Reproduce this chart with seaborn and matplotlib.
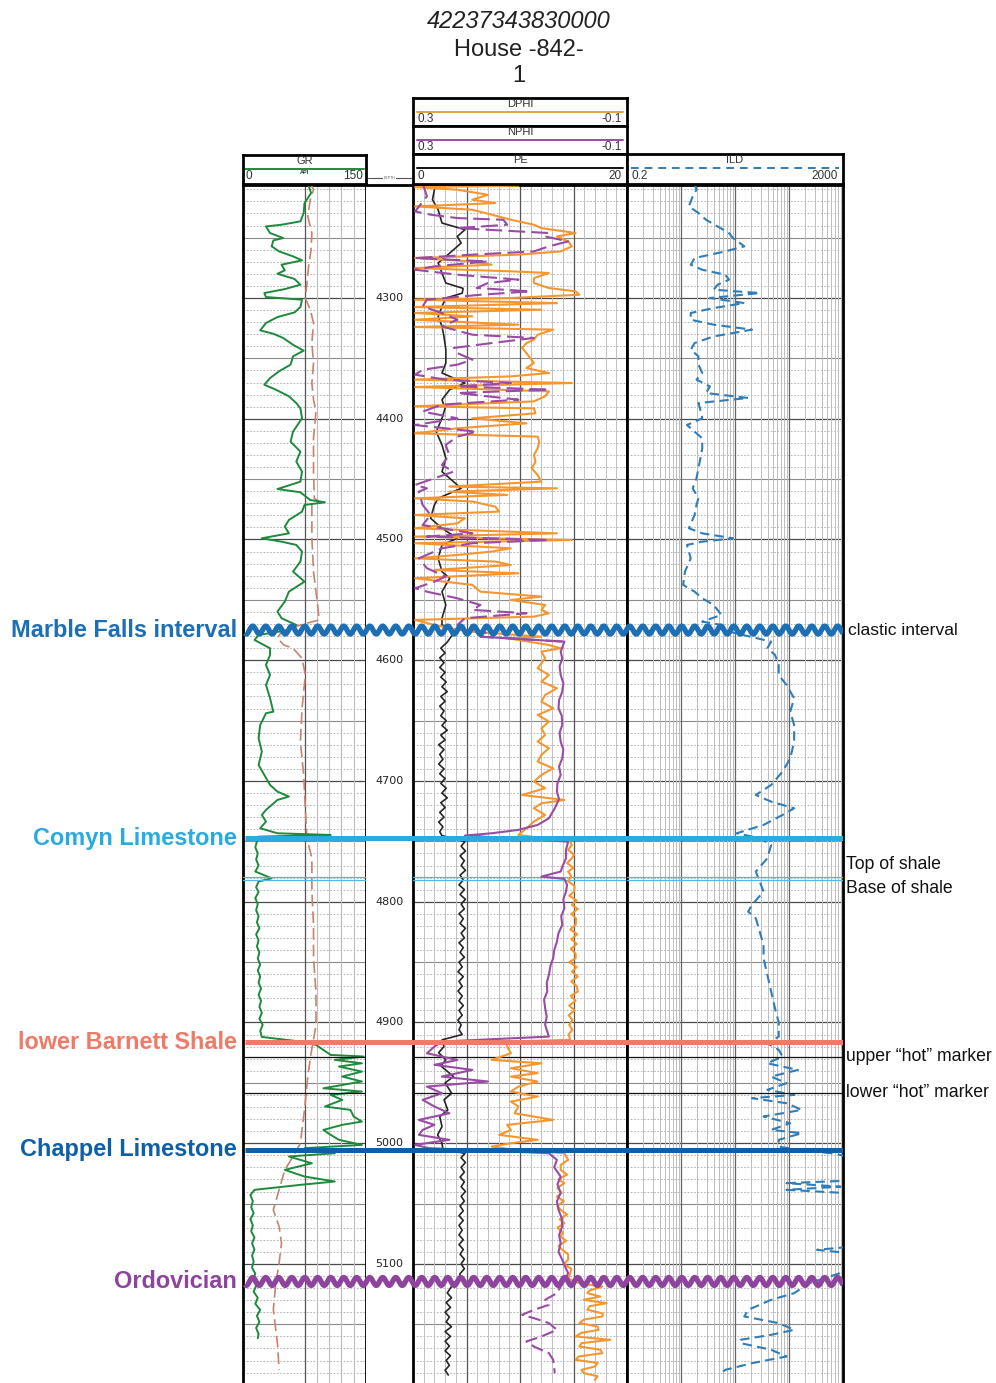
import numpy as np
import pandas as pd
import matplotlib
matplotlib.use("Agg")
import matplotlib.pyplot as plt
from matplotlib.lines import Line2D
import seaborn as sns

# ---------------- DATA (depth ft, value) ----------------
GR_LOG = [(4204.8,79),(4213.1,83),(4221.4,75),(4229.6,74),(4236.5,70),(4239.3,47),(4240.7,28),(4246.2,33),(4250.3,49),(4252.3,37),(4257.2,35),(4261.4,44),(4265.5,61),(4268.8,72),(4272.4,47),(4277.1,51),(4279.9,42),(4284.3,63),(4289.0,70),(4292.6,51),(4295.9,26),(4299.2,28),(4301.4,72),(4307.5,70),(4311.9,63),(4315.8,42),(4320.7,28),(4326.8,21),(4329.6,37),(4333.1,49),(4338.7,61),(4343.6,74),(4348.3,61),(4355.2,58),(4360.7,44),(4366.3,33),(4371.8,26),(4375.9,40),(4381.4,56),(4387.0,65),(4391.4,70),(4399.6,72),(4410.7,61),(4419.0,58),(4427.2,70),(4435.5,65),(4443.8,72),(4452.1,70),(4458.2,42),(4460.9,70),(4467.3,82),(4469.2,100),(4471.4,75),(4476.9,72),(4483.8,56),(4489.3,51),(4494.9,56),(4499.0,23),(4501.8,47),(4504.5,65),(4510.0,72),(4518.3,70),(4526.6,61),(4534.9,75),(4543.2,56),(4551.4,51),(4559.7,42),(4565.2,47),(4570.8,65),(4574.9,56),(4579.1,19),(4583.2,14),(4590.1,33),(4595.6,33),(4603.9,28),(4612.2,33),(4620.5,28),(4631.5,33),(4642.6,37),(4643.9,28),(4653.6,21),(4664.6,19),(4675.7,23),(4686.7,19),(4695.0,26),(4703.3,33),(4708.8,42),(4712.9,56),(4715.7,42),(4719.8,35),(4724.0,28),(4728.1,23),(4733.6,28),(4739.2,21),(4743.3,42),(4744.7,107),(4746.1,19),(4750,17),(4755,15),(4760,18),(4765,16),(4770,19),(4775,15),(4780.6,35),(4783.3,19),(4788,16),(4792,19),(4797,15),(4802,18),(4807,16),(4812,19),(4817,17),(4822,20),(4827,16),(4832,19),(4837,17),(4842,20),(4847,18),(4852,21),(4857,18),(4862,21),(4867,19),(4872,22),(4877,19),(4882,22),(4887,20),(4892,23),(4897,20),(4902,24),(4907,21),(4912,23),(4915.8,70),(4918.6,89),(4926.9,107),(4928.2,147),(4931.0,112),(4933.8,145),(4936.5,117),(4940.7,145),(4944.8,121),(4948.9,145),(4954.5,98),(4957.2,145),(4960.0,107),(4964.1,121),(4969.6,100),(4972.4,131),(4977.9,135),(4982.1,145),(4984.8,121),(4989.0,98),(4993.1,107),(4997.2,117),(5001.4,145),(5004.1,75),(5008.3,112),(5011.0,56),(5016.6,84),(5022.1,51),(5027.6,75),(5031.7,112),(5034.5,70),(5038.6,14),(5043,9),(5048,12),(5053,10),(5058,13),(5063,9),(5068,12),(5073,10),(5078,14),(5083,11),(5088,14),(5093,11),(5098,13),(5103,11),(5108,15),(5113,12),(5118,16),(5123,13),(5128,18),(5133,15),(5138,21),(5143,17),(5148,20),(5153,16),(5158,19),(5161.5,18)]

# unlabeled brown dashed curve drawn in the GR track (GR-track units)
AUX_LOG = [(4204.8,82),(4210.3,86),(4218.6,82),(4232.4,79),(4246.2,84),(4260.0,83),(4273.8,80),(4287.6,78),(4300.0,76),(4309.7,82),(4320.7,86),(4337.3,84),(4353.8,86),(4370.4,84),(4384.2,86),(4394.1,89),(4416.2,86),(4443.8,86),(4466.0,87),(4468.6,93),(4471.4,84),(4499.0,84),(4526.6,86),(4554.2,91),(4566.6,93),(4570.8,70),(4576.3,47),(4581.8,42),(4587.4,50),(4590.1,61),(4598.4,72),(4612.2,76),(4639.8,72),(4667.4,70),(4695.0,74),(4722.6,76),(4747.4,78),(4764.0,84),(4791.6,84),(4819.2,86),(4846.8,86),(4874.4,89),(4902.0,89),(4914.4,86),(4925.5,83),(4944.8,79),(4972.4,75),(5000.0,70),(5011.0,61),(5022.1,51),(5038.6,44),(5055.2,37),(5069.0,44),(5082.8,47),(5099.4,44),(5115.9,40),(5138.0,37),(5165.6,42),(5187.7,44)]

PE_LOG = [(4204.8,2.35),(4210.3,2.00),(4218.6,1.82),(4226.9,2.35),(4237.9,2.71),(4243.4,4.86),(4249.0,4.14),(4254.5,4.50),(4262.8,3.43),(4271.0,2.35),(4279.3,2.71),(4287.6,3.07),(4292.0,4.68),(4296.0,4.60),(4300.0,3.07),(4306.9,2.71),(4315.2,2.35),(4323.5,2.71),(4331.8,2.89),(4342.8,3.07),(4353.8,3.07),(4362.1,2.71),(4370.4,4.86),(4375.9,3.43),(4384.2,2.71),(4391.4,3.00),(4399.6,2.71),(4410.7,2.17),(4421.7,2.71),(4432.8,3.07),(4443.8,2.71),(4457.6,4.50),(4465.9,2.35),(4471.4,2.00),(4482.4,1.64),(4490.7,2.71),(4499.0,4.14),(4504.5,2.71),(4515.6,2.35),(4526.6,2.71),(4532.1,3.43),(4543.2,2.71),(4554.2,3.07),(4565.2,2.71),(4570.8,2.71),(4576.3,4.14),(4580,3.6),(4585,3.2),(4590,2.6),(4594,3.0),(4598,2.5),(4602,2.9),(4606,2.5),(4610,3.0),(4614,2.6),(4618,3.1),(4622,2.7),(4626,3.2),(4630,2.6),(4634,3.0),(4638,2.5),(4642,2.9),(4646,2.6),(4650,3.1),(4654,2.7),(4658,3.2),(4662,2.6),(4666,3.0),(4670,2.4),(4674,2.9),(4678,2.5),(4682,2.8),(4686,2.4),(4690,2.9),(4694,2.5),(4698,3.0),(4702,2.6),(4706,3.1),(4710,2.7),(4714,3.2),(4718,2.6),(4722,3.0),(4726,2.5),(4730,2.9),(4734,2.4),(4738,2.8),(4742,2.5),(4745.2,2.7),(4750.2,4.86),(4754,4.5),(4758,4.9),(4762,4.4),(4766,4.8),(4770,4.5),(4774,4.9),(4778,4.4),(4782,4.7),(4786,4.3),(4790,4.8),(4794,4.4),(4798,4.9),(4802,4.5),(4806,4.8),(4810,4.3),(4814,4.7),(4818,4.4),(4822,4.9),(4826,4.5),(4830,4.8),(4834,4.3),(4838,4.7),(4842,4.4),(4846,4.8),(4850,4.3),(4854,4.6),(4858,4.2),(4862,4.7),(4866,4.3),(4870,4.6),(4874,4.2),(4878,4.6),(4882,4.3),(4886,4.7),(4890,4.3),(4894,4.6),(4898,4.2),(4902,4.5),(4906,4.3),(4910,4.6),(4914.4,2.71),(4920.0,2.89),(4925,2.4),(4931.0,3.07),(4936,2.6),(4944.8,3.79),(4950,3.0),(4958.6,3.61),(4964,2.9),(4972.4,3.25),(4978,2.5),(4986.2,2.71),(4993,2.3),(5000.0,2.71),(5005.5,2.8),(5008.3,4.86),(5012,4.5),(5016,4.9),(5020,4.5),(5024,4.8),(5028,4.4),(5032,4.8),(5036,4.5),(5040,4.9),(5044,4.5),(5048,4.8),(5052,4.4),(5056,4.7),(5060,4.3),(5064,4.7),(5068,4.3),(5072,4.6),(5076,4.3),(5080,4.7),(5084,4.3),(5088,4.7),(5092,4.4),(5096,4.8),(5100,4.5),(5104,4.8),(5108,4.4),(5112,4.3),(5116,3.8),(5120,3.5),(5124,3.2),(5128,3.6),(5132,3.1),(5136,3.5),(5140,3.0),(5144,3.4),(5148,3.1),(5152,3.6),(5156,3.0),(5160,3.5),(5164,3.0),(5168,3.4),(5172,3.0),(5176,3.5),(5180,3.1),(5184,3.4),(5188,3.0),(5192,3.3)]

DPHI_LOG = [(4204.8,0.103),(4207.0,0.103),(4208.1,0.296),(4210.3,0.217),(4214.5,0.160),(4218.6,0.189),(4221.4,0.146),(4224.1,0.296),(4226.9,0.189),(4231.0,0.153),(4235.2,0.117),(4239.3,0.074),(4242.1,0.060),(4246.2,-0.004),(4249.0,0.031),(4253.1,0.010),(4257.2,0.003),(4261.4,0.024),(4264.1,0.103),(4266.9,0.296),(4269.7,0.189),(4272.4,0.153),(4275.2,0.296),(4277.9,0.117),(4279.3,0.046),(4283.5,0.074),(4287.6,0.074),(4291.7,0.046),(4294.5,-0.004),(4297.3,-0.011),(4300.0,0.117),(4301.4,0.296),(4304.2,0.031),(4307.5,0.296),(4309.7,0.060),(4312.4,0.296),(4315.2,0.189),(4318.0,0.296),(4322.1,0.103),(4324.0,0.296),(4326.2,0.038),(4330.4,0.067),(4334.5,0.074),(4337.3,0.088),(4341.4,0.096),(4345.6,0.088),(4349.7,0.081),(4353.8,0.074),(4358.0,0.088),(4362.1,0.046),(4364.9,0.117),(4367.6,0.296),(4370.4,0.003),(4373.7,0.296),(4377.3,0.046),(4381.4,0.053),(4385.6,0.074),(4389.7,0.296),(4391.4,0.074),(4395.5,0.071),(4399.6,0.189),(4403.8,0.088),(4407.9,0.217),(4412.1,0.296),(4414.8,0.067),(4419.0,0.064),(4424.5,0.067),(4430.0,0.074),(4435.5,0.071),(4441.0,0.078),(4446.6,0.067),(4452.1,0.060),(4456.2,0.232),(4457.6,0.031),(4460.4,0.232),(4463.1,0.124),(4465.9,0.296),(4468.6,0.189),(4472.8,0.146),(4476.9,0.139),(4479.7,0.296),(4482.4,0.203),(4486.6,0.217),(4490.7,0.296),(4494.9,0.031),(4497.6,0.296),(4500.4,0.003),(4503.1,0.296),(4507.3,0.117),(4510.0,0.153),(4512.8,0.217),(4515.6,0.296),(4518.3,0.146),(4521.1,0.117),(4525.2,0.260),(4528.0,0.103),(4532.1,0.296),(4537.6,0.189),(4543.2,0.174),(4547.3,0.060),(4550.1,0.117),(4554.2,0.053),(4558.3,0.060),(4561.1,0.046),(4563.9,0.074),(4566.6,0.296),(4570.8,0.260),(4576.0,0.200),(4580.5,0.060),(4581.8,0.124),(4583.2,0.103),(4587.4,0.046),(4590.1,0.024),(4592.9,0.060),(4598.4,0.053),(4606.7,0.067),(4612.2,0.046),(4617.7,0.060),(4623.2,0.031),(4628.8,0.053),(4634.3,0.060),(4639.8,0.038),(4645.3,0.067),(4650.8,0.046),(4656.4,0.060),(4661.9,0.053),(4667.4,0.067),(4672.9,0.046),(4678.4,0.060),(4684.0,0.067),(4689.5,0.038),(4695.0,0.060),(4700.5,0.074),(4706.0,0.053),(4711.6,0.096),(4715.7,0.017),(4718.5,0.060),(4722.6,0.074),(4728.1,0.053),(4733.6,0.074),(4739.2,0.088),(4744.7,0.103),(4750.2,0.006),(4753.0,0.003),(4757,0.010),(4761,-0.001),(4764.0,0.003),(4768,0.012),(4772,0.000),(4775.0,0.010),(4779,0.004),(4783,0.010),(4787,-0.002),(4791.6,-0.001),(4795,0.008),(4799,-0.006),(4802.6,0.003),(4806,-0.008),(4810,0.004),(4814,-0.005),(4819.2,-0.004),(4823,0.006),(4827,-0.007),(4831,0.004),(4835,-0.006),(4839,0.005),(4843,-0.004),(4846.8,-0.004),(4850,0.008),(4854,-0.006),(4858,0.003),(4862,-0.008),(4866,0.004),(4870,-0.006),(4874.4,-0.008),(4878,0.005),(4882,-0.004),(4886,0.008),(4890,-0.002),(4894,0.009),(4898,0.002),(4902,0.008),(4906,0.002),(4910,0.009),(4914.4,0.006),(4915.8,0.124),(4920.0,0.124),(4925.5,0.117),(4931.0,0.153),(4933.8,0.060),(4937.9,0.117),(4942.0,0.067),(4944.8,0.117),(4948.9,0.067),(4953.1,0.103),(4957.2,0.117),(4961.4,0.067),(4965.5,0.117),(4969.6,0.103),(4975.2,0.110),(4980.7,0.038),(4984.8,0.124),(4989.0,0.117),(4993.1,0.139),(4997.2,0.067),(5000.0,0.117),(5002.8,0.153),(5005.5,0.110),(5008.3,0.017),(5013.8,0.010),(5018,0.024),(5022.1,0.024),(5026,0.012),(5030,0.028),(5033.1,0.017),(5037,0.030),(5041,0.022),(5044.2,0.031),(5048,0.018),(5052,0.030),(5055.2,0.024),(5059,0.012),(5063,0.026),(5066.2,0.017),(5070,0.030),(5074,0.020),(5077.3,0.024),(5081,0.014),(5085,0.028),(5088.3,0.021),(5092,0.010),(5096.6,0.010),(5100,0.018),(5104,0.004),(5107.6,0.006),(5112,0.010),(5115.9,-0.010),(5118.7,-0.054),(5122,-0.030),(5124.2,-0.026),(5127,-0.050),(5129.7,-0.019),(5132.5,-0.062),(5135,-0.030),(5138.0,-0.026),(5141,-0.055),(5143.5,-0.054),(5146,-0.020),(5149.0,-0.011),(5151.8,-0.045),(5154.6,-0.047),(5157,-0.015),(5160.1,-0.004),(5162.8,-0.069),(5165.6,-0.015),(5168.4,-0.011),(5171,-0.050),(5173.9,-0.054),(5176.6,-0.010),(5179.4,-0.004),(5182,-0.045),(5184.9,-0.040),(5187.7,-0.015),(5190.4,-0.019),(5193,-0.045),(5196.0,-0.040)]

NPHI_LOG = [(4204.8,0.282),(4215.8,0.274),(4228.3,0.296),(4231.0,0.267),(4233.8,0.217),(4235.2,0.131),(4239.3,0.124),(4242.1,0.217),(4246.2,0.046),(4249.0,0.053),(4253.1,0.010),(4257.2,0.046),(4261.4,0.074),(4264.1,0.189),(4266.9,0.296),(4269.7,0.160),(4273.8,0.260),(4276.6,0.296),(4280.7,0.217),(4284.8,0.103),(4287.6,0.160),(4291.7,0.181),(4294.5,0.081),(4297.3,0.174),(4301.4,0.274),(4306.9,0.282),(4312.4,0.246),(4318.0,0.217),(4323.5,0.246),(4330.4,0.189),(4333.1,0.074),(4337.3,0.153),(4341.4,0.224),(4345.6,0.217),(4351.1,0.189),(4355.2,0.217),(4359.4,0.282),(4363.5,0.296),(4367.6,0.239),(4370.4,0.117),(4373.2,0.217),(4375.9,0.046),(4378.7,0.217),(4384.2,0.103),(4388.3,0.246),(4394.1,0.282),(4399.6,0.217),(4405.2,0.296),(4410.7,0.181),(4414.8,0.217),(4421.7,0.239),(4430.0,0.232),(4438.3,0.246),(4443.8,0.224),(4449.3,0.260),(4454.8,0.296),(4457.6,0.274),(4460.4,0.289),(4471.4,0.282),(4479.7,0.267),(4488.0,0.282),(4494.9,0.189),(4497.6,0.274),(4500.4,0.046),(4503.1,0.189),(4507.3,0.246),(4515.6,0.289),(4523.8,0.274),(4530.7,0.239),(4534.9,0.260),(4540.4,0.296),(4543.2,0.274),(4548.7,0.217),(4554.2,0.174),(4558.3,0.189),(4561.1,0.088),(4565.2,0.203),(4570.8,0.217),(4578.0,0.160),(4580.5,0.174),(4584.6,0.017),(4592.9,0.024),(4598.4,0.021),(4605,0.026),(4612.2,0.024),(4619,0.019),(4626.0,0.021),(4633,0.027),(4639.8,0.028),(4646,0.022),(4653.6,0.021),(4660,0.026),(4667.4,0.024),(4674,0.019),(4681.2,0.021),(4688,0.027),(4695.0,0.024),(4702,0.030),(4708.8,0.031),(4715,0.027),(4722.6,0.035),(4730.9,0.046),(4736.4,0.067),(4740.5,0.103),(4743.3,0.153),(4745.2,0.203),(4750.2,0.010),(4757,0.014),(4764.0,0.014),(4770,0.020),(4775.0,0.024),(4779.2,0.060),(4781.1,0.017),(4786,0.012),(4791.6,0.014),(4798,0.019),(4805.4,0.017),(4812,0.023),(4819.2,0.021),(4826,0.028),(4833.0,0.031),(4840,0.036),(4846.8,0.038),(4853,0.043),(4860.6,0.046),(4867,0.050),(4874.4,0.049),(4881,0.055),(4888.2,0.053),(4895,0.050),(4902.0,0.053),(4911.7,0.046),(4915.8,0.246),(4920.0,0.260),(4925.5,0.274),(4931.0,0.217),(4935.1,0.260),(4939.3,0.189),(4944.8,0.246),(4948.9,0.160),(4953.1,0.274),(4958.6,0.246),(4964.1,0.282),(4969.6,0.260),(4975.2,0.232),(4980.7,0.289),(4984.8,0.260),(4989.0,0.282),(4993.1,0.289),(4997.2,0.232),(5001.4,0.296),(5004.1,0.270),(5008.3,0.046),(5013.8,0.031),(5020,0.036),(5027.6,0.024),(5034,0.030),(5041.4,0.024),(5048,0.031),(5055.2,0.028),(5062,0.022),(5069.0,0.021),(5076,0.027),(5082.8,0.024),(5090,0.028),(5096.6,0.021),(5102,0.016),(5107.6,0.010),(5113,0.016),(5118.7,0.024),(5124.2,0.031),(5129.7,0.053),(5133.9,0.046),(5138.0,0.074),(5142.1,0.096),(5144.9,0.074),(5149.0,0.046),(5154.6,0.031),(5160.1,0.060),(5164.2,0.088),(5168.4,0.074),(5173.9,0.046),(5179.4,0.038),(5190.4,0.035)]

ILD_LOG = [(4204.8,3.57),(4210.3,3.87),(4215.8,3.29),(4224.1,2.80),(4229.6,4.20),(4235.2,5.83),(4240.7,9.51),(4246.2,15.5),(4250.3,18.3),(4257.2,29.8),(4261.4,13.2),(4266.9,3.57),(4272.4,3.03),(4276.6,4.95),(4280.7,13.2),(4284.8,15.5),(4289.0,9.51),(4293.1,8.07),(4295.9,57.3),(4300.0,6.86),(4304.2,29.8),(4308.3,8.07),(4312.4,3.03),(4318.0,3.03),(4322.1,8.07),(4326.2,41.3),(4331.8,8.07),(4337.3,3.57),(4342.8,3.03),(4348.3,4.20),(4355.2,4.20),(4362.1,4.95),(4367.6,3.87),(4373.2,6.86),(4378.7,5.83),(4382.8,35.1),(4387.0,4.20),(4391.4,4.5),(4399.6,4.95),(4405.2,2.58),(4410.7,3.57),(4416.2,4.95),(4424.5,4.95),(4432.8,4.57),(4441.0,4.20),(4449.3,3.87),(4457.6,3.29),(4465.9,4.20),(4471.4,3.87),(4479.7,3.57),(4490.7,2.80),(4494.9,4.95),(4499.0,18.3),(4501.8,4.95),(4504.5,2.58),(4515.6,3.03),(4526.6,2.37),(4537.6,2.19),(4543.2,3.57),(4548.7,4.95),(4554.2,8.07),(4562.5,11.2),(4568.0,4.95),(4570.8,11.2),(4576.3,15.5),(4584.6,93.4),(4590.1,79.4),(4595.6,110),(4603.9,129),(4612.2,129),(4620.5,180),(4631.5,249),(4642.6,211),(4653.6,249),(4667.4,249),(4681.2,211),(4692.2,152),(4703.3,93.4),(4711.6,48.6),(4717.1,93.4),(4722.6,249),(4728.1,152),(4736.4,67.5),(4743.3,21.5),(4747.4,57.3),(4753.0,93.4),(4764.0,79.4),(4775.0,48.6),(4783.3,57.3),(4791.6,67.5),(4802.6,41.3),(4808.2,35.1),(4813.7,48.6),(4824.7,57.3),(4835.8,67.5),(4846.8,67.5),(4860.6,79.4),(4874.4,93.4),(4888.2,110),(4900.0,129),(4911.7,129),(4917.2,79.4),(4922.7,129),(4928.2,152),(4933.8,79.4),(4939.3,293),(4944.8,93.4),(4950.3,180),(4955.8,79.4),(4960.0,249),(4962.7,41.3),(4966.9,180),(4972.4,345),(4977.9,67.5),(4983.4,211),(4989.0,93.4),(4991.7,345),(4997.2,129),(5002.8,129),(5005.5,293),(5008.3,1200),(5011.0,2500),(5031.0,2500),(5033.1,180),(5036.0,1800),(5038.6,180),(5041.4,2500),(5086.0,2500),(5088.3,662),(5091.0,2500),(5104.0,2500),(5107.6,1762),(5115.9,478),(5124.2,249),(5129.7,93.4),(5138.0,35.1),(5143.5,29.8),(5149.0,129),(5154.6,249),(5158.7,93.4),(5162.8,25.4),(5165.6,25.4),(5171.1,93.4),(5176.6,180),(5182.2,41.3),(5187.7,13.2),(5190.4,11.0)]

TOP_NAMES = ["Marble Falls interval", "Comyn Limestone", "lower Barnett Shale", "Chappel Limestone", "Ordovician"]
TOP_DEPTHS = [4575.0, 4747.5, 4916.5, 5005.5, 5114.5]
TOP_COLORS = ["#1C6FB4", "#2AABE0", "#F07A68", "#0F5FA6", "#8E449E"]
TOP_WAVY = [True, False, False, False, True]

MARKER_NAMES = ["Top of shale", "Base of shale", "upper \u201chot\u201d marker", "lower \u201chot\u201d marker"]
MARKER_DEPTHS = [4779.2, 4782.0, 4928.2, 4958.1]
MARKER_COLORS = ["#4FB8E6", "#4FB8E6", "#111111", "#111111"]
MARKER_LABEL_SHIFT = [-10.0, 7.0, 0.0, 0.0]

DEPTH_LABELS = [4300, 4400, 4500, 4600, 4700, 4800, 4900, 5000, 5100]
TITLE_LINES = ["42237343830000", "House -842-", "1"]

# ---------------- STYLE / LAYOUT ----------------
sns.set_theme(style="white")
plt.rcParams["font.family"] = ["Liberation Sans", "DejaVu Sans"]

W, H = 996, 1383
fig = plt.figure(figsize=(W / 100, H / 100), dpi=100)
fig.patch.set_facecolor("white")

D_TOP, D_BOT = 4206.4, 5198.6
TY0, TY1 = 185, 1383
SPINE_LW = 2.0


def px_axes(x0, y0, x1, y1, z=1):
    return fig.add_axes([x0 / W, 1 - y1 / H, (x1 - x0) / W, (y1 - y0) / H], zorder=z)


def style_track(ax):
    ax.set_ylim(D_BOT, D_TOP)
    ax.set_xticks([])
    ax.set_yticks([])
    ax.set_xlabel("")
    ax.set_ylabel("")
    for s in ax.spines.values():
        s.set_linewidth(SPINE_LW)
        s.set_color("black")
    ax.spines["bottom"].set_visible(False)


def depth_grid(ax):
    for d in range(4210, 5200, 10):
        if d % 100 == 0:
            ax.axhline(d, color="#4a4a4a", lw=0.9, zorder=0.5)
        elif d % 50 == 0:
            ax.axhline(d, color="#8a8a8a", lw=0.8, zorder=0.5)
        else:
            ax.axhline(d, color="#a8a8a8", lw=0.6, ls=(0, (2, 2)), zorder=0.5)


def draw_curve(ax, log, name, color, lw=1.3, dash=None):
    df = pd.DataFrame(log, columns=["depth", name])
    sns.lineplot(data=df, x=name, y="depth", sort=False, estimator=None,
                 ax=ax, color=color, linewidth=lw, legend=False, zorder=3)
    line = ax.get_lines()[-1]
    if dash is not None:
        line.set_linestyle((0, dash))
    return line


# ---------- GR track ----------
ax_gr = px_axes(243, TY0, 366, TY1)
ax_gr.set_xlim(0, 150)
depth_grid(ax_gr)
ax_gr.axvline(75, color="#555555", lw=0.9, zorder=0.6)
for v in [90, 105, 120, 135]:
    ax_gr.axvline(v, color="#bdbdbd", lw=0.8, zorder=0.6)
draw_curve(ax_gr, AUX_LOG, "aux", "#C9826E", lw=1.2, dash=(7, 3))
draw_curve(ax_gr, GR_LOG, "GR", "#1E8A3C", lw=1.4)
ax_gr.set_xlim(0, 150)
style_track(ax_gr)

# ---------- Depth track ----------
ax_dep = px_axes(366, TY0, 413, TY1)
ax_dep.set_xlim(0, 1)
for d in DEPTH_LABELS:
    ax_dep.text(0.5, d, str(d), ha="center", va="center", fontsize=8,
                color="#222222", family="DejaVu Sans")
style_track(ax_dep)
ax_dep.spines["left"].set_visible(False)
ax_dep.spines["right"].set_visible(False)

# ---------- PE / porosity track ----------
ax_pe = px_axes(413, TY0, 627, TY1)
ax_pe.set_xlim(0, 20)
depth_grid(ax_pe)
for k in range(1, 20):
    if k % 5 == 0:
        ax_pe.axvline(k, color="#555555", lw=0.9, zorder=0.6)
    else:
        ax_pe.axvline(k, color="#c0c0c0", lw=0.7, zorder=0.6)
draw_curve(ax_pe, PE_LOG, "PE", "#262626", lw=1.2)
ax_pe.set_xlim(0, 20)
style_track(ax_pe)

ax_phi = ax_pe.twiny()
ax_phi.set_xlim(0.3, -0.1)
nphi_df = pd.DataFrame(NPHI_LOG, columns=["depth", "NPHI"])
upper = nphi_df[nphi_df.depth <= 4584.6]
mid = nphi_df[(nphi_df.depth >= 4580.5) & (nphi_df.depth <= 5118.7)]
lower = nphi_df[nphi_df.depth >= 5113]
draw_curve(ax_phi, DPHI_LOG, "DPHI", "#F5962F", lw=1.5)
for part, dash in [(upper, (8, 3)), (mid, None), (lower, (6, 2.5))]:
    draw_curve(ax_phi, list(part.itertuples(index=False, name=None)), "NPHI",
               "#9A4BA6", lw=1.5, dash=dash)
ax_phi.set_xlim(0.3, -0.1)
ax_phi.set_ylim(D_BOT, D_TOP)
ax_phi.set_xticks([])
ax_phi.set_yticks([])
ax_phi.set_xlabel("")
ax_phi.set_ylabel("")
for s in ax_phi.spines.values():
    s.set_visible(False)

# ---------- ILD track ----------
ax_ild = px_axes(627, TY0, 843, TY1)
ax_ild.set_xscale("log")
ax_ild.set_xlim(0.2, 2000)
depth_grid(ax_ild)
for n in range(4):
    for k in range(2, 10):
        ax_ild.axvline(0.2 * k * 10 ** n, color="#bdbdbd", lw=0.7, zorder=0.6)
    if n > 0:
        ax_ild.axvline(0.2 * 10 ** n, color="#666666", lw=0.9, zorder=0.6)
draw_curve(ax_ild, ILD_LOG, "ILD", "#2F7DBA", lw=1.5, dash=(4.5, 2.5))
ax_ild.set_xlim(0.2, 2000)
style_track(ax_ild)
ax_ild.minorticks_off()
ax_ild.set_xticks([])

# thin marker lines (not through depth track)
for d, c in zip(MARKER_DEPTHS, MARKER_COLORS):
    for ax in (ax_gr, ax_pe, ax_ild):
        ax.axhline(d, color=c, lw=0.9, zorder=4)

# ---------- formation tops overlay ----------
ax_ov = px_axes(243, TY0, 843, TY1, z=10)
ax_ov.set_xlim(0, 1)
ax_ov.set_ylim(D_BOT, D_TOP)
ax_ov.axis("off")
ax_ov.patch.set_alpha(0)
xs = np.linspace(0.003, 1, 2400)
period = 13.0 / 600.0
amp = 3.3
for name, d, c, wavy in zip(TOP_NAMES, TOP_DEPTHS, TOP_COLORS, TOP_WAVY):
    if wavy:
        ax_ov.plot(xs, d + amp * np.sin(2 * np.pi * xs / period), color=c, lw=3.8,
                   solid_capstyle="butt")
    else:
        ax_ov.plot([0.003, 1], [d, d], color=c, lw=3.6, solid_capstyle="butt")
    ax_ov.text(-6 / 600, d, name, ha="right", va="center", color=c,
               fontsize=16.9, fontweight="bold", clip_on=False)

ax_ov.text(1 + 5 / 600, TOP_DEPTHS[0], "clastic interval", ha="left", va="center",
           fontsize=12.6, color="#111111", clip_on=False)
for name, d, sh in zip(MARKER_NAMES, MARKER_DEPTHS, MARKER_LABEL_SHIFT):
    ax_ov.text(1 + 3 / 600, d + sh, name, ha="left", va="center", fontsize=12.7,
               color="#111111", clip_on=False)

# ---------- headers ----------
HDR_FS = 8.0


def header_box(x0, y0, x1, y1, title, left, right, color, dash=None, title_y=0.8,
               line_y=0.53, lab_y=0.28, extra=None):
    hx = px_axes(x0, y0, x1, y1, z=6)
    hx.set_xlim(0, 1)
    hx.set_ylim(0, 1)
    hx.set_xticks([])
    hx.set_yticks([])
    for s in hx.spines.values():
        s.set_linewidth(SPINE_LW)
        s.set_color("black")
    hx.text(0.5, title_y, title, ha="center", va="center", fontsize=HDR_FS, color="#333333")
    ln, = hx.plot([0.02, 0.98], [line_y, line_y], color=color, lw=1.4)
    if dash is not None:
        ln.set_linestyle((0, dash))
    hx.text(0.02, lab_y, left, ha="left", va="center", fontsize=HDR_FS + 0.5, color="#333333")
    hx.text(0.975, lab_y, right, ha="right", va="center", fontsize=HDR_FS + 0.5, color="#333333")
    if extra:
        hx.text(0.5, lab_y + 0.1, extra, ha="center", va="center", fontsize=4,
                fontweight="bold", color="#333333")
    return hx


header_box(243, 155, 366, 184, "GR", "0", "150", "#1E8A3C", extra="API")
header_box(413, 98, 627, 126, "DPHI", "0.3", "-0.1", "#D9A441",
           title_y=0.8, line_y=0.5, lab_y=0.24)
header_box(413, 126, 627, 154, "NPHI", "0.3", "-0.1", "#9A4BA6",
           title_y=0.8, line_y=0.5, lab_y=0.24)
header_box(413, 154, 627, 184, "PE", "0", "20", "#111111")
header_box(627, 154, 843, 184, "ILD", "0.2", "2000", "#2F7DBA", dash=(4, 3))

# small depth-track header mark
fig.add_artist(Line2D([368 / W, 411 / W], [1 - 178 / H, 1 - 178 / H],
                      transform=fig.transFigure, color="#555555", lw=0.8))
fig.text(389.5 / W, 1 - 178 / H, "DEPTH", ha="center", va="center", fontsize=2.5,
         color="#555555", bbox=dict(facecolor="white", edgecolor="none", pad=0.3))

# ---------- title ----------
fig.text(519 / W, 1 - 22 / H, TITLE_LINES[0], ha="center", va="center",
         fontsize=17, style="italic", color="#222222")
fig.text(519 / W, 1 - 50 / H, TITLE_LINES[1], ha="center", va="center",
         fontsize=17, color="#222222")
fig.text(519 / W, 1 - 76 / H, TITLE_LINES[2], ha="center", va="center",
         fontsize=17, color="#222222")

fig.savefig("out.png", dpi=100, facecolor="white")
